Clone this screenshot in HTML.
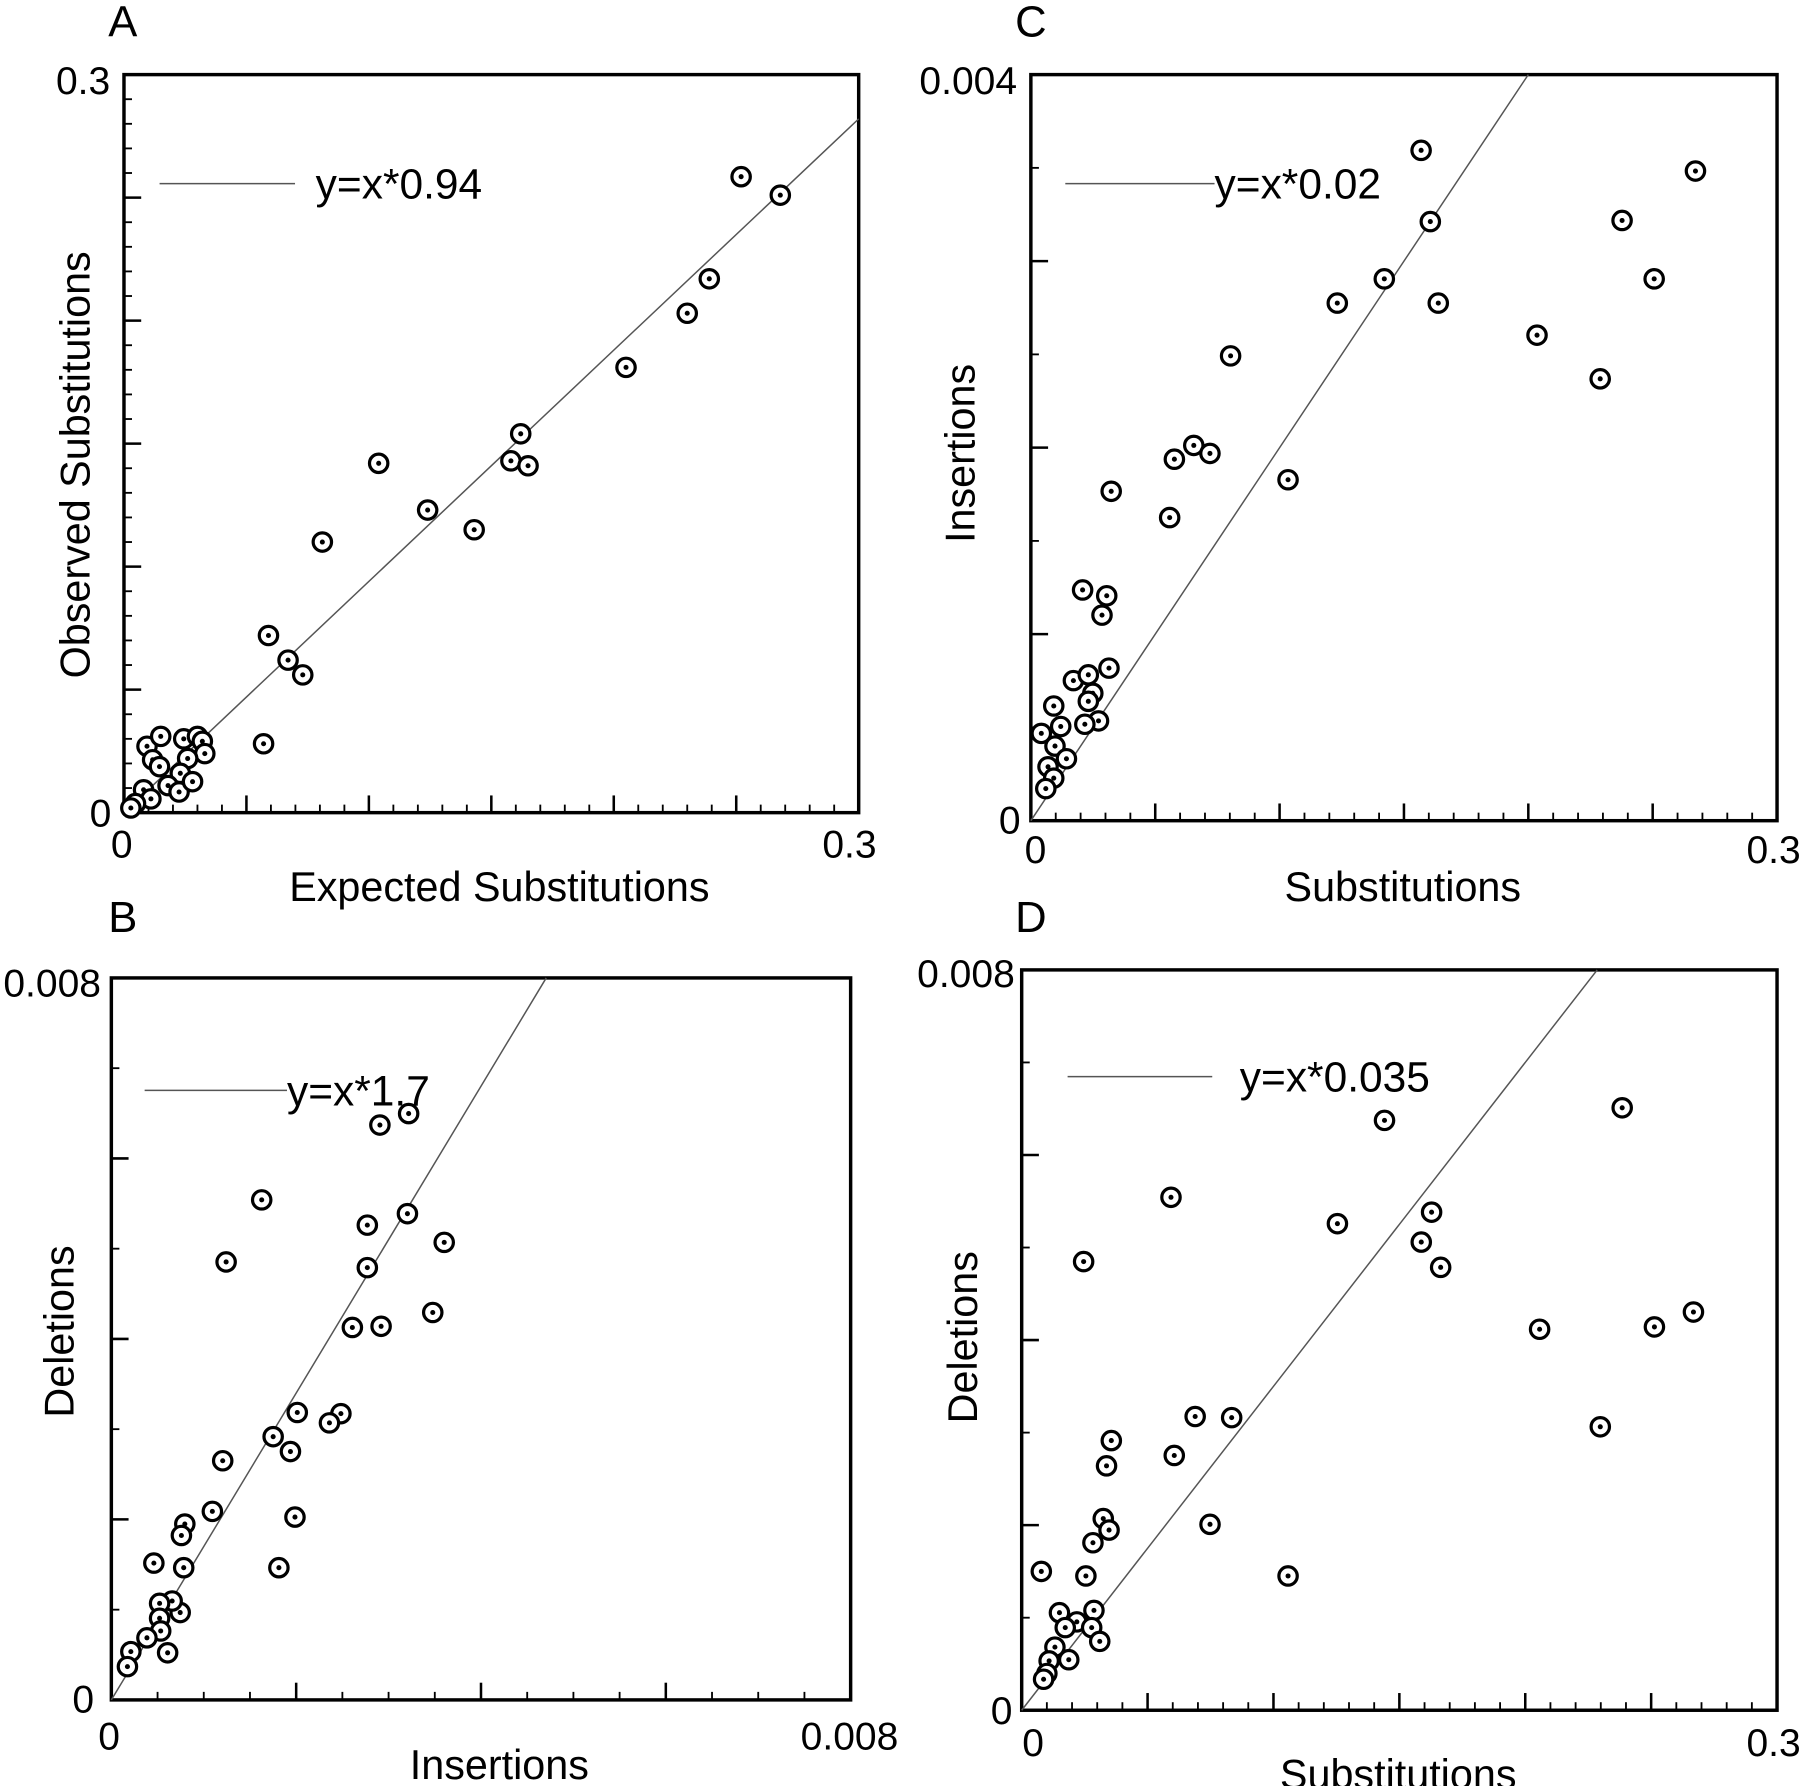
<!DOCTYPE html>
<html><head><meta charset="utf-8"><style>
html,body{margin:0;padding:0;background:#fff}
svg{display:block}
text{font-family:"Liberation Sans",sans-serif;fill:#000}
</style></head><body>
<svg id="fig" width="1800" height="1786" viewBox="0 0 1568 1556" preserveAspectRatio="none" xmlns="http://www.w3.org/2000/svg"></svg>
<script>
// Panel A data
const aX=[0.252,0.268,0.239,0.230,0.205,0.162,0.158,0.165,0.104,0.124,0.143,0.081,0.059,0.067,0.073,0.057,0.0094,0.015,0.0117,0.0145,0.0244,0.030,0.032,0.033,0.026,0.023,0.018,0.0225,0.028,0.008,0.011,0.0047,0.0028];
const aY=[0.2585,0.251,0.217,0.203,0.181,0.154,0.143,0.141,0.142,0.123,0.115,0.110,0.072,0.062,0.056,0.028,0.027,0.031,0.0215,0.0187,0.030,0.031,0.029,0.024,0.022,0.016,0.011,0.0084,0.0126,0.0093,0.0056,0.0037,0.0019];
// Panel B data
const bX=[0.003217,0.002906,0.001627,0.003204,0.00277,0.003602,0.001242,0.00277,0.003478,0.002608,0.002919,0.002012,0.002484,0.00236,0.001751,0.001938,0.001205,0.001093,0.001987,0.000795,0.000758,0.000783,0.00046,0.001813,0.000745,0.000658,0.000522,0.000522,0.000534,0.000385,0.000609,0.000211,0.000174];
const bY=[0.006497,0.00637,0.005541,0.005388,0.005261,0.00507,0.004853,0.00479,0.004293,0.004127,0.00414,0.003185,0.003172,0.00307,0.002917,0.002752,0.00265,0.002089,0.002026,0.001949,0.001822,0.001465,0.001516,0.001465,0.000968,0.001096,0.00107,0.000905,0.000764,0.000688,0.000522,0.000535,0.000369];
// Panel C data
const cX=[0.1569,0.2672,0.1606,0.2377,0.1421,0.1232,0.1638,0.2506,0.2035,0.2289,0.0803,0.1034,0.0577,0.0655,0.072,0.0323,0.0558,0.0208,0.0305,0.0286,0.0314,0.0171,0.0231,0.0249,0.0231,0.0272,0.0217,0.0092,0.012,0.0042,0.0097,0.0143,0.0069,0.0092,0.006];
const cY=[0.003594,0.003483,0.003212,0.003218,0.002905,0.002775,0.002775,0.002905,0.002603,0.002369,0.002492,0.001828,0.001938,0.002012,0.001969,0.001766,0.001625,0.001237,0.001206,0.001102,0.000818,0.000751,0.000782,0.000683,0.00064,0.000535,0.000517,0.000615,0.000505,0.000468,0.0004,0.000332,0.000289,0.000228,0.000172];
// Panel D data
const dX=[0.2385,0.1441,0.0593,0.1628,0.1254,0.1587,0.0246,0.1664,0.2057,0.2513,0.2668,0.2298,0.0689,0.0834,0.0356,0.0337,0.0606,0.0324,0.0347,0.0748,0.0283,0.0078,0.0255,0.1058,0.015,0.0287,0.0219,0.0173,0.0278,0.031,0.0132,0.0187,0.0109,0.01,0.0087];
const dY=[0.00651,0.006374,0.005543,0.005382,0.005258,0.005059,0.004848,0.004786,0.004117,0.004142,0.004303,0.003063,0.003174,0.003162,0.002914,0.002641,0.002753,0.002071,0.001947,0.002009,0.00181,0.0015,0.001451,0.001451,0.001054,0.001079,0.000955,0.000893,0.000893,0.000744,0.000682,0.000546,0.000533,0.000397,0.000335];
const slopes=[0.94,1.7,0.02,0.035];
const legendText=["y=x*0.94","y=x*1.7","y=x*0.02","y=x*0.035"];
const xMaxLabels=["0.3","0.008","0.3","0.3"];
const yMaxLabels=["0.3","0.008","0.004","0.008"];

const NS="http://www.w3.org/2000/svg";
const svg=document.getElementById('fig');
function mk(tag,attrs,parent,txt){const e=document.createElementNS(NS,tag);for(const k in attrs)e.setAttribute(k,attrs[k]);if(txt!==undefined)e.textContent=txt;(parent||svg).appendChild(e);return e;}

function panel(o){
  const g=mk('g',{});
  
  
  const sx=v=>o.x0+v/o.xmax*(o.x1-o.x0);
  const sy=v=>o.y1-v/o.ymax*(o.y1-o.y0);
  const fr=mk('rect',{x:o.x0,y:o.y0,width:o.x1-o.x0,height:o.y1-o.y0,fill:'none',stroke:'#000','stroke-width':3},g);
  
  
  const nx=Math.round(o.xmax/o.xmin);
  for(let i=1;i<nx;i++){const v=i*o.xmin;const maj=Math.abs(v/o.xmaj-Math.round(v/o.xmaj))<1e-6;const L=maj?15:7;
    const t=mk('line',{x1:sx(v),x2:sx(v),y1:o.y1,y2:o.y1-L,stroke:'#000','stroke-width':maj?2.2:1.6},g);
    }
  const ny=Math.round(o.ymax/o.ymin);
  for(let i=1;i<ny;i++){const v=i*o.ymin;const maj=Math.abs(v/o.ymaj-Math.round(v/o.ymaj))<1e-6;const L=maj?15:7;
    const t=mk('line',{x1:o.x0,x2:o.x0+L,y1:sy(v),y2:sy(v),stroke:'#000','stroke-width':maj?2.2:1.6},g);
    }
  const s=o.slope;let xe=o.xmax,ye=s*o.xmax;if(ye>o.ymax){ye=o.ymax;xe=o.ymax/s;}
  const fl=mk('line',{x1:sx(0),y1:sy(0),x2:sx(xe),y2:sy(ye),stroke:'#555','stroke-width':1.3},g);
  
  for(let i=0;i<o.xs.length;i++){
    const pg=mk('g',{},g);
    
    
    mk('circle',{cx:sx(o.xs[i]),cy:sy(o.ys[i]),r:8,fill:'#fff',stroke:'#000','stroke-width':2.8},pg);
    mk('circle',{cx:sx(o.xs[i]),cy:sy(o.ys[i]),r:2.2,fill:'#000'},pg);
  }
  const lg=mk('g',{},g);
  
  
  mk('line',{x1:o.lx0,x2:o.lx1,y1:o.ly,y2:o.ly,stroke:'#555','stroke-width':1.3},lg);
  mk('text',{x:o.tx,y:o.ly+13,'font-size':37},lg,o.leg);
  const lab=(x,y,t,anchor,name,size,rot)=>{const e=mk('text',{x:x,y:y,'font-size':size||34,'text-anchor':anchor||'middle'},g,t);if(rot)e.setAttribute('transform','rotate(-90 '+x+' '+y+')');return e;};
  lab(o.ymx,o.ymy,o.ymaxL,'end','y-max-label');
  lab(o.y0x,o.y0y,'0','end','y-zero-label');
  lab(o.x0lx,o.xly,'0','middle','x-zero-label');
  lab(o.xmx,o.xly,o.xmaxL,'middle','x-max-label');
  lab(o.xtx,o.xty,o.xt,'middle','x-axis-title',36);
  lab(o.ytx,o.yty,o.yt,'middle','y-axis-title',36,true);
  lab(o.lbx,o.lby,o.id.toUpperCase(),'middle','panel-letter',38);
}
panel({id:'a',x0:108,x1:748,y0:65,y1:708,xmax:0.3,ymax:0.3,xmaj:0.05,xmin:0.01,ymaj:0.05,ymin:0.01,xs:aX,ys:aY,slope:slopes[0],
  leg:legendText[0],lx0:139,lx1:257,ly:160,tx:275,ymaxL:yMaxLabels[0],xmaxL:xMaxLabels[0],
  ymx:96,ymy:82,y0x:97,y0y:720,x0lx:106,xmx:740,xly:747,xt:'Expected Substitutions',xtx:435,xty:785,yt:'Observed Substitutions',ytx:78,yty:405,lbx:107,lby:32});
panel({id:'b',x0:97,x1:741,y0:852,y1:1481,xmax:0.008,ymax:0.008,xmaj:0.002,xmin:0.0005,ymaj:0.002,ymin:0.001,xs:bX,ys:bY,slope:slopes[1],
  leg:legendText[1],lx0:126,lx1:250,ly:950,tx:250,ymaxL:yMaxLabels[1],xmaxL:xMaxLabels[1],
  ymx:88,ymy:868,y0x:82,y0y:1492,x0lx:95,xmx:740,xly:1524,xt:'Insertions',xtx:435,xty:1550,yt:'Deletions',ytx:64,yty:1160,lbx:107,lby:812});
panel({id:'c',x0:898,x1:1548,y0:65,y1:715,xmax:0.3,ymax:0.004,xmaj:0.05,xmin:0.01,ymaj:0.001,ymin:0.0005,xs:cX,ys:cY,slope:slopes[2],
  leg:legendText[2],lx0:928,lx1:1058,ly:160,tx:1058,ymaxL:yMaxLabels[2],xmaxL:xMaxLabels[2],
  ymx:886,ymy:82,y0x:889,y0y:726,x0lx:902,xmx:1545,xly:752,xt:'Substitutions',xtx:1222,xty:785,yt:'Insertions',ytx:849,yty:395,lbx:898,lby:32});
panel({id:'d',x0:890,x1:1548,y0:845,y1:1490,xmax:0.3,ymax:0.008,xmaj:0.05,xmin:0.01,ymaj:0.002,ymin:0.001,xs:dX,ys:dY,slope:slopes[3],
  leg:legendText[3],lx0:930,lx1:1056,ly:938,tx:1080,ymaxL:yMaxLabels[3],xmaxL:xMaxLabels[3],
  ymx:884,ymy:860,y0x:882,y0y:1502,x0lx:900,xmx:1545,xly:1530,xt:'Substitutions',xtx:1218,xty:1558,yt:'Deletions',ytx:851,yty:1165,lbx:898,lby:812});
</script>
</body></html>
